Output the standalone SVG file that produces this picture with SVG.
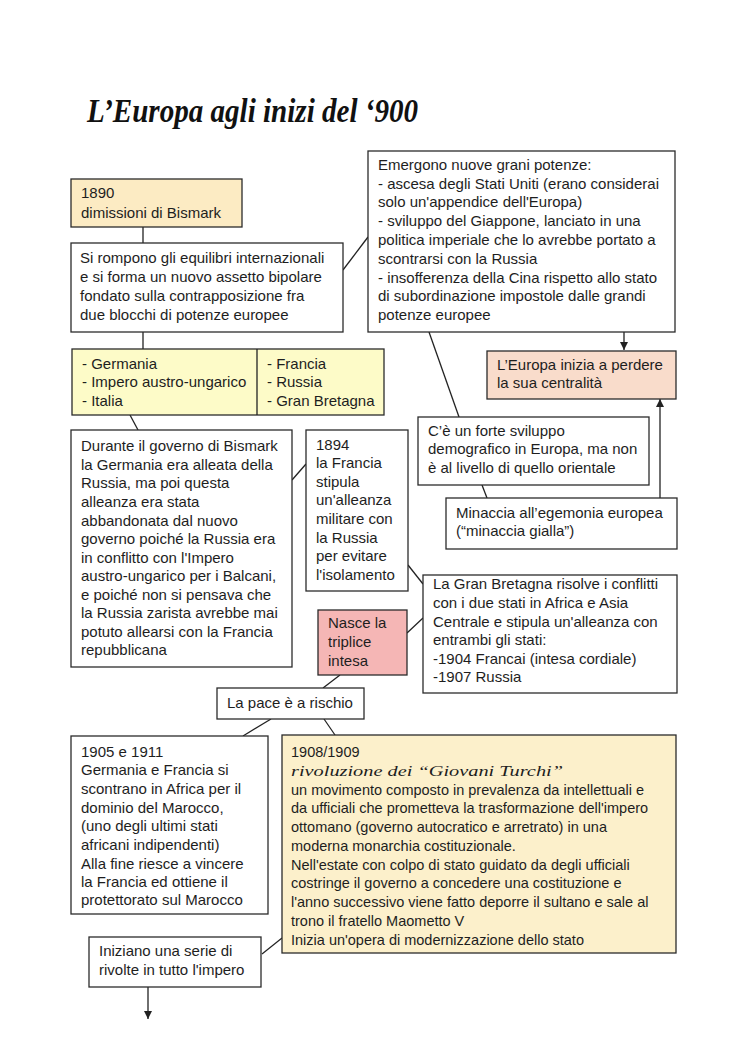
<svg xmlns="http://www.w3.org/2000/svg" width="750" height="1061" viewBox="0 0 750 1061">
<style>
.box{stroke:#2b2b2b;stroke-width:1.3}
.w{fill:#ffffff}
.t{font-family:"Liberation Sans",Arial,sans-serif;font-size:15px;fill:#1e1e1e}
.s{font-size:14.5px}
.ln{stroke:#222;stroke-width:1.3;fill:none}
.title{font-family:"Liberation Serif",serif;font-style:italic;font-weight:bold;font-size:33px;fill:#111}
.cur{font-family:"Liberation Serif",serif;font-style:italic;font-size:15px;fill:#1e1e1e}
</style>
<defs>
<marker id="ah" viewBox="0 0 10 10" refX="10" refY="5" markerWidth="8" markerHeight="8" orient="auto" markerUnits="userSpaceOnUse">
<path d="M0,0 L10,5 L0,10 z" fill="#222"/>
</marker>
</defs>
<rect width="750" height="1061" fill="#ffffff"/>
<text class="title" x="87" y="122" textLength="331" lengthAdjust="spacingAndGlyphs">L’Europa agli inizi del ‘900</text>

<g id="connectors">
<line class="ln" x1="143" y1="227" x2="143" y2="243"/>
<line class="ln" x1="343" y1="270" x2="368" y2="237"/>
<line class="ln" x1="143" y1="332" x2="143" y2="349"/>
<line class="ln" x1="130" y1="415" x2="138" y2="430"/>
<line class="ln" x1="292" y1="480" x2="306" y2="464"/>
<line class="ln" x1="408" y1="565" x2="423" y2="584"/>
<line class="ln" x1="407" y1="633" x2="423" y2="618"/>
<line class="ln" x1="340" y1="675" x2="323" y2="688"/>
<line class="ln" x1="271" y1="719" x2="243" y2="736"/>
<line class="ln" x1="324" y1="719" x2="335" y2="735"/>
<line class="ln" x1="429" y1="332" x2="459" y2="417"/>
<line class="ln" x1="624" y1="332" x2="624" y2="350" marker-end="url(#ah)"/>
<line class="ln" x1="482" y1="485" x2="487" y2="498"/>
<line class="ln" x1="660" y1="498" x2="660" y2="399" marker-end="url(#ah)"/>
<line class="ln" x1="282" y1="938" x2="262" y2="954"/>
<line class="ln" x1="148" y1="987" x2="148" y2="1019" marker-end="url(#ah)"/>
</g>

<g id="n1890">
<rect class="box" x="71" y="179" width="171" height="48" fill="#fcebc3"/>
<text class="t" x="81"><tspan x="81" y="198">1890</tspan><tspan x="81" y="218">dimissioni di Bismark</tspan></text>
</g>

<g id="nrompono">
<rect class="box w" x="71" y="243" width="272" height="89"/>
<text class="t"><tspan x="80" y="263">Si rompono gli equilibri internazionali</tspan><tspan x="80" y="282">e si forma un nuovo assetto bipolare</tspan><tspan x="80" y="301">fondato sulla contrapposizione fra</tspan><tspan x="80" y="320">due blocchi di potenze europee</tspan></text>
</g>

<g id="nemergono">
<rect class="box w" x="368" y="151" width="307" height="181"/>
<text class="t"><tspan x="378" y="170">Emergono nuove grani potenze:</tspan><tspan x="378" y="189">- ascesa degli Stati Uniti (erano considerai</tspan><tspan x="378" y="207">solo un'appendice dell'Europa)</tspan><tspan x="378" y="226">- sviluppo del Giappone, lanciato in una</tspan><tspan x="378" y="245">politica imperiale che lo avrebbe portato a</tspan><tspan x="378" y="264">scontrarsi con la Russia</tspan><tspan x="378" y="283">- insofferenza della Cina rispetto allo stato</tspan><tspan x="378" y="301">di subordinazione impostole dalle grandi</tspan><tspan x="378" y="320">potenze europee</tspan></text>
</g>

<g id="nblocchi">
<rect class="box" x="72" y="349" width="312" height="66" fill="#fdfbc8"/>
<line class="ln" x1="257" y1="349" x2="257" y2="415"/>
<text class="t"><tspan x="82" y="369">- Germania</tspan><tspan x="82" y="387">- Impero austro-ungarico</tspan><tspan x="82" y="406">- Italia</tspan></text>
<text class="t"><tspan x="267" y="369">- Francia</tspan><tspan x="267" y="387">- Russia</tspan><tspan x="267" y="406">- Gran Bretagna</tspan></text>
</g>

<g id="neuropa">
<rect class="box" x="487" y="351" width="189" height="48" fill="#f9dccb"/>
<text class="t"><tspan x="497" y="370">L’Europa inizia a perdere</tspan><tspan x="497" y="388">la sua centralità</tspan></text>
</g>

<g id="ndemografico">
<rect class="box w" x="418" y="417" width="231" height="68"/>
<text class="t"><tspan x="428" y="436">C’è un forte sviluppo</tspan><tspan x="428" y="454">demografico in Europa, ma non</tspan><tspan x="428" y="473">è al livello di quello orientale</tspan></text>
</g>

<g id="nminaccia">
<rect class="box w" x="446" y="498" width="231" height="51"/>
<text class="t"><tspan x="456" y="518">Minaccia all’egemonia europea</tspan><tspan x="456" y="536">(“minaccia gialla”)</tspan></text>
</g>

<g id="ndurante">
<rect class="box w" x="71" y="430" width="221" height="237"/>
<text class="t"><tspan x="81" y="451">Durante il governo di Bismark</tspan><tspan x="81" y="470">la Germania era alleata della</tspan><tspan x="81" y="488">Russia, ma poi questa</tspan><tspan x="81" y="507">alleanza era stata</tspan><tspan x="81" y="526">abbandonata dal nuovo</tspan><tspan x="81" y="544">governo poiché la Russia era</tspan><tspan x="81" y="563">in conflitto con l'Impero</tspan><tspan x="81" y="581">austro-ungarico per i Balcani,</tspan><tspan x="81" y="600">e poiché non si pensava che</tspan><tspan x="81" y="618">la Russia zarista avrebbe mai</tspan><tspan x="81" y="637">potuto allearsi con la Francia</tspan><tspan x="81" y="655">repubblicana</tspan></text>
</g>

<g id="n1894">
<rect class="box w" x="306" y="430" width="102" height="161"/>
<text class="t"><tspan x="316" y="450">1894</tspan><tspan x="316" y="468">la Francia</tspan><tspan x="316" y="487">stipula</tspan><tspan x="316" y="505">un'alleanza</tspan><tspan x="316" y="524">militare con</tspan><tspan x="316" y="543">la Russia</tspan><tspan x="316" y="561">per evitare</tspan><tspan x="316" y="580">l'isolamento</tspan></text>
</g>

<g id="nnasce">
<rect class="box" x="318" y="610" width="89" height="65" fill="#f5b6b5"/>
<text class="t"><tspan x="328" y="628">Nasce la</tspan><tspan x="328" y="647">triplice</tspan><tspan x="328" y="666">intesa</tspan></text>
</g>

<g id="ngb">
<rect class="box w" x="423" y="575" width="254" height="118"/>
<text class="t"><tspan x="433" y="589">La Gran Bretagna risolve i conflitti</tspan><tspan x="433" y="608">con i due stati in Africa e Asia</tspan><tspan x="433" y="627">Centrale e stipula un'alleanza con</tspan><tspan x="433" y="645">entrambi gli stati:</tspan><tspan x="433" y="664">-1904 Francai (intesa cordiale)</tspan><tspan x="433" y="682">-1907 Russia</tspan></text>
</g>

<g id="npace">
<rect class="box w" x="217" y="688" width="147" height="31"/>
<text class="t" x="227" y="708">La pace è a rischio</text>
</g>

<g id="n1905">
<rect class="box w" x="71" y="736" width="197" height="178"/>
<text class="t"><tspan x="81" y="757">1905 e 1911</tspan><tspan x="81" y="775">Germania e Francia si</tspan><tspan x="81" y="794">scontrano in Africa per il</tspan><tspan x="81" y="813">dominio del Marocco,</tspan><tspan x="81" y="831">(uno degli ultimi stati</tspan><tspan x="81" y="850">africani indipendenti)</tspan><tspan x="81" y="869">Alla fine riesce a vincere</tspan><tspan x="81" y="887">la Francia ed ottiene il</tspan><tspan x="81" y="905">protettorato sul Marocco</tspan></text>
</g>

<g id="n1908">
<rect class="box" x="282" y="735" width="394" height="218" fill="#fcf0cb"/>
<text class="t s" x="291" y="757">1908/1909</text>
<text class="cur" x="291" y="776" textLength="272" lengthAdjust="spacingAndGlyphs">rivoluzione dei “Giovani Turchi”</text>
<text class="t s"><tspan x="291" y="795">un movimento composto in prevalenza da intellettuali e</tspan><tspan x="291" y="813">da ufficiali che prometteva la trasformazione dell'impero</tspan><tspan x="291" y="832">ottomano (governo autocratico e arretrato) in una</tspan><tspan x="291" y="851">moderna monarchia costituzionale.</tspan><tspan x="291" y="870">Nell'estate con colpo di stato guidato da degli ufficiali</tspan><tspan x="291" y="888">costringe il governo a concedere una costituzione e</tspan><tspan x="291" y="907">l'anno successivo viene fatto deporre il sultano e sale al</tspan><tspan x="291" y="926">trono il fratello Maometto V</tspan><tspan x="291" y="945">Inizia un'opera di modernizzazione dello stato</tspan></text>
</g>

<g id="niniziano">
<rect class="box w" x="89" y="937" width="172" height="50"/>
<text class="t"><tspan x="99" y="956">Iniziano una serie di</tspan><tspan x="99" y="975">rivolte in tutto l'impero</tspan></text>
</g>
</svg>
